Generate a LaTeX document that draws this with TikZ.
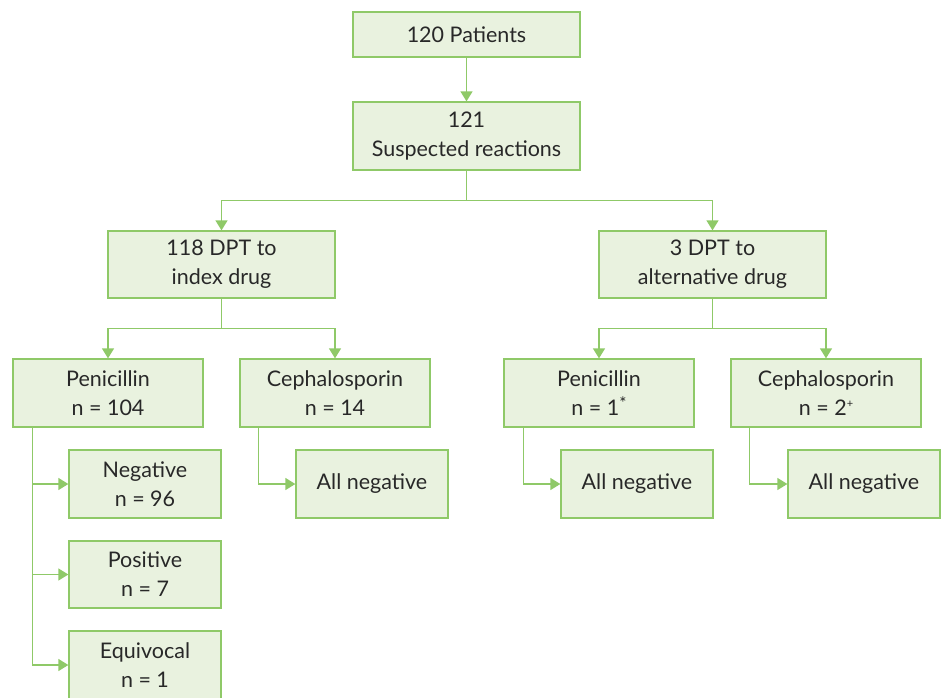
\documentclass[tikz,border=0pt]{standalone}
\usepackage{fontspec}
\setmainfont{Lato}
\usetikzlibrary{arrows.meta}
\definecolor{boxgreen}{RGB}{143,201,104}
\definecolor{boxfill}{RGB}{233,242,223}
\definecolor{txtgray}{RGB}{40,40,40}
\tikzset{
  box/.style={draw=boxgreen,fill=boxfill,line width=1.3pt,align=center,
    text=txtgray,inner sep=0pt,font=\fontsize{21.5}{29}\selectfont},
  conn/.style={draw=boxgreen,line width=1.3pt,-{Triangle[length=10pt,width=12pt]}}
}
\newcommand{\bx}[5]{\node[box,minimum width=#3pt,minimum height=#4pt] (#1) at #2 {#5};}
\newcommand{\supmk}[3]{\raisebox{#2}{\fontsize{#1}{#1}\selectfont #3}}

\begin{document}
\begin{tikzpicture}[x=1pt,y=-1pt]
  \useasboundingbox (0,0) rectangle (941,697);
  \begin{scope}
   \clip (0,0) rectangle (941,697);
   % top of the tree
   \bx{pat}{(466.5,34.5)}{227}{45}{120 Patients}
   \bx{sus}{(466.5,136)}{227}{68}{121\\Suspected reactions}
   \bx{idx}{(221.5,264.5)}{227}{67}{118 DPT to\\index drug}
   \bx{alt}{(712.5,264.5)}{227}{67}{3 DPT to\\alternative drug}
   % drug classes
   \bx{pen}{(108,393)}{190}{68}{Penicillin\\n = 104}
   \bx{cep}{(335,393)}{190}{68}{Cephalosporin\\n = 14}
   \bx{apen}{(599,393)}{190}{68}{Penicillin\\n = 1\supmk{17}{6pt}{*}}
   \bx{acep}{(826,393)}{190}{68}{Cephalosporin\\n = 2\supmk{11}{8pt}{+}}
   % results
   \bx{neg}{(145,484)}{152}{68}{Negative\\n = 96}
   \bx{pos}{(145,574.5)}{152}{67}{Positive\\n = 7}
   \bx{equ}{(145,665)}{152}{68}{Equivocal\\n = 1}
   \bx{cneg}{(372,484)}{152}{68}{All negative}
   \bx{pneg}{(637,484)}{152}{68}{All negative}
   \bx{aneg}{(864,484)}{152}{68}{All negative}
   % connectors
   \draw[conn] (pat) -- (sus);
   \draw[conn] (sus.south) -- ++(0,30) -| (idx.north);
   \draw[conn] (sus.south) -- ++(0,30) -| (alt.north);
   \draw[conn] (idx.south) -- ++(0,30) -| (pen.north);
   \draw[conn] (idx.south) -- ++(0,30) -| (cep.north);
   \draw[conn] (alt.south) -- ++(0,30) -| (apen.north);
   \draw[conn] (alt.south) -- ++(0,30) -| (acep.north);
   \draw[conn] ([xshift=20]pen.south west) |- (neg.west);
   \draw[conn] ([xshift=20]pen.south west) |- (pos.west);
   \draw[conn] ([xshift=20]pen.south west) |- (equ.west);
   \draw[conn] ([xshift=19]cep.south west) |- (cneg.west);
   \draw[conn] ([xshift=20]apen.south west) |- (pneg.west);
   \draw[conn] ([xshift=19]acep.south west) |- (aneg.west);
  \end{scope}
\end{tikzpicture}
\end{document}
